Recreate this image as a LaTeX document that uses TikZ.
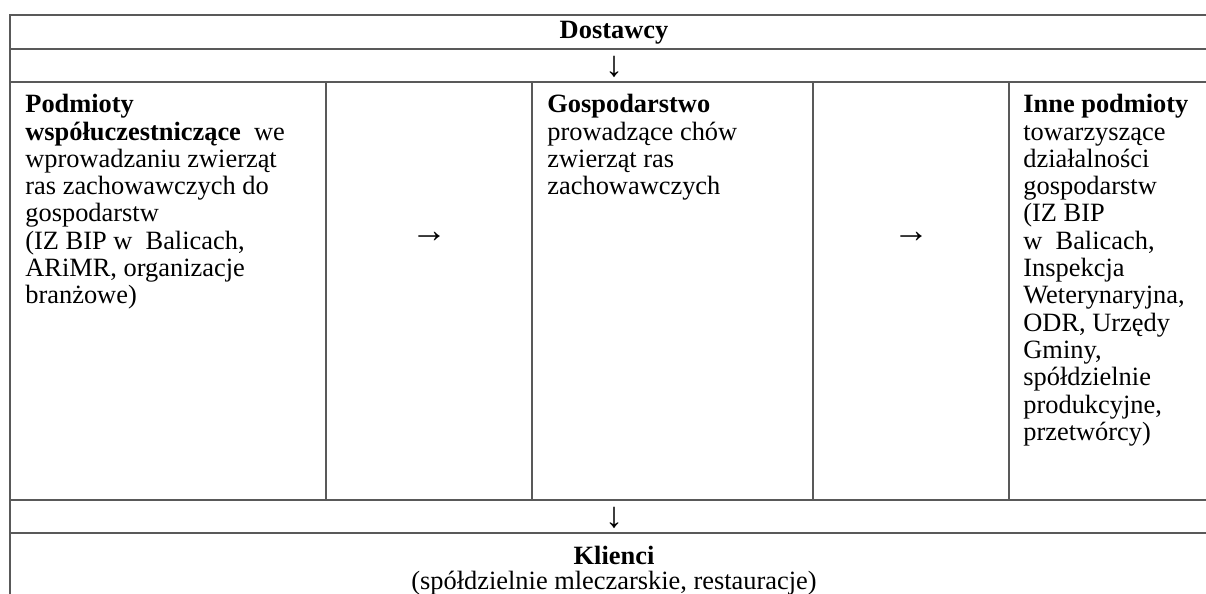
\documentclass[tikz,border=0pt]{standalone}
\usepackage{fontspec}
\setmainfont{Liberation Serif}
\begin{document}
\begin{tikzpicture}[x=0.5pt,y=-0.5pt,
  rule/.style={draw=black!65,line width=0.7pt},
  cell/.style={anchor=north west,inner sep=0pt,align=left,font=\fontsize{13.2pt}{13.65pt}\selectfont},
  glyph/.style={inner sep=0pt,font=\fontsize{18pt}{18pt}\selectfont},
  ctext/.style={inner sep=0pt,align=center,font=\fontsize{13.2pt}{12.5pt}\selectfont}]
\useasboundingbox (0,0) rectangle (1206,594);
% grid
\draw[rule] (1206,15) -- (10,15) -- (10,594);
\draw[rule] (10,49) -- (1206,49);
\draw[rule] (10,82) -- (1206,82);
\draw[rule] (10,500) -- (1206,500);
\draw[rule] (10,533) -- (1206,533);
\foreach \x in {326,532,813,1009} \draw[rule] (\x,82) -- (\x,500);
% header
\node[inner sep=0pt,font=\fontsize{13.2pt}{13.65pt}\selectfont\bfseries] (dost) at (614,33) {Dostawcy};
\node[glyph] (down1) at (614,67) {↓};
% cells
\node[cell] (left) at (25,94) {\textbf{Podmioty}\\
\textbf{współuczestniczące}\ \ we\\
wprowadzaniu zwierząt\\
ras zachowawczych do\\
gospodarstw\\
(IZ BIP w\ \ Balicach,\\
ARiMR, organizacje\\
branżowe)};
\node[glyph] (arr1) at (429,237) {→};
\node[cell] (mid) at (547,94) {\textbf{Gospodarstwo}\\
prowadzące chów\\
zwierząt ras\\
zachowawczych};
\node[glyph] (arr2) at (911,237) {→};
\node[cell] (right) at (1023,94) {\textbf{Inne podmioty}\\
towarzyszące\\
działalności\\
gospodarstw\\
(IZ BIP\\
w\ \ Balicach,\\
Inspekcja\\
Weterynaryjna,\\
ODR, Urzędy\\
Gminy,\\
spółdzielnie\\
produkcyjne,\\
przetwórcy)};
\node[glyph] (down2) at (614,518) {↓};
\node[ctext] (kl) at (614,571) {\textbf{Klienci}\\(spółdzielnie mleczarskie, restauracje)};
\end{tikzpicture}
\end{document}
